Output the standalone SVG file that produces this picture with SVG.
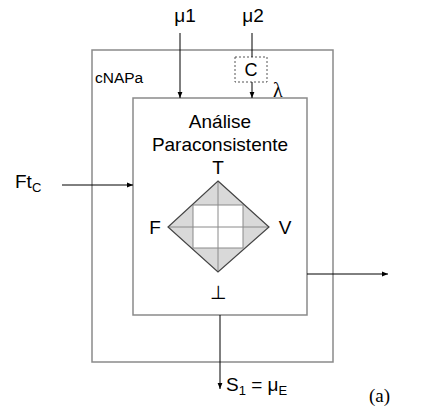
<svg xmlns="http://www.w3.org/2000/svg" width="427" height="412" viewBox="0 0 427 412">
<defs>
<marker id="ah" viewBox="0 0 10 10" refX="10" refY="5" markerWidth="6" markerHeight="6" orient="auto" markerUnits="userSpaceOnUse">
<path d="M0,1 L10,5 L0,9 z" fill="#000"/>
</marker>
<style>
.box{fill:none;stroke:#8a8a8a;stroke-width:1.5}
.ln{fill:none;stroke:#000;stroke-width:1}
.t{font-family:"Liberation Sans",Arial,sans-serif;fill:#000}
.s{font-family:"Liberation Serif","Times New Roman",serif;fill:#000}
</style>
</defs>
<rect width="427" height="412" fill="#fff"/>
<g id="cnapa">
<rect class="box" x="92" y="50" width="241" height="312"/>
<text class="t" x="95" y="83" font-size="15.5">cNAPa</text>
</g>
<g id="analise">
<rect class="box" x="133" y="98" width="174" height="217"/>
<text class="t" x="220" y="128" font-size="19" text-anchor="middle">Análise</text>
<text class="t" x="220" y="151" font-size="19" text-anchor="middle">Paraconsistente</text>
</g>
<g id="lattice">
<polygon points="218,181 269,227 218,272 168,227" fill="#d9d9d9" stroke="none"/>
<rect x="193" y="205" width="50" height="43" fill="#fff"/>
<g stroke="#8a8a8a" stroke-width="1" fill="none">
<rect x="193" y="205" width="50" height="43"/>
<line x1="218" y1="181" x2="218" y2="272"/>
<line x1="168" y1="227" x2="269" y2="227"/>
</g>
<polygon points="218,181 269,227 218,272 168,227" fill="none" stroke="#444" stroke-width="1.2"/>
<text class="t" x="218" y="174" font-size="19" text-anchor="middle">T</text>
<text class="t" x="155" y="234" font-size="19" text-anchor="middle">F</text>
<text class="t" x="285" y="234" font-size="19" text-anchor="middle">V</text>
<text class="t" x="218" y="299" font-size="19" text-anchor="middle">⊥</text>
</g>
<g id="c">
<rect x="235" y="57" width="32" height="25" fill="none" stroke="#555" stroke-width="1" stroke-dasharray="2,2"/>
<text class="t" x="251" y="76" font-size="18" text-anchor="middle">C</text>
</g>
<g id="labels">
<text class="t" x="185" y="22" font-size="19" text-anchor="middle">μ1</text>
<text class="t" x="253" y="22" font-size="19" text-anchor="middle">μ2</text>
<text class="s" x="273" y="97" font-size="20">λ</text>
<text class="t" x="15" y="188" font-size="19">Ft<tspan font-size="13" dy="4">C</tspan></text>
<text class="t" x="226" y="391" font-size="19">S<tspan font-size="13" dy="4">1</tspan><tspan dy="-4"> = μ</tspan><tspan font-size="13" dy="4">E</tspan></text>
<text class="s" x="369" y="402" font-size="19">(a)</text>
</g>
<g id="connectors">
<line class="ln" x1="180" y1="33" x2="180" y2="98" marker-end="url(#ah)"/>
<line class="ln" x1="252" y1="33" x2="252" y2="57"/>
<line class="ln" x1="252" y1="82" x2="252" y2="98" marker-end="url(#ah)"/>
<line class="ln" x1="62" y1="185" x2="133" y2="185" marker-end="url(#ah)"/>
<line class="ln" x1="307" y1="274" x2="388" y2="274" marker-end="url(#ah)"/>
<line class="ln" x1="220" y1="315" x2="220" y2="389" marker-end="url(#ah)"/>
</g>
</svg>
